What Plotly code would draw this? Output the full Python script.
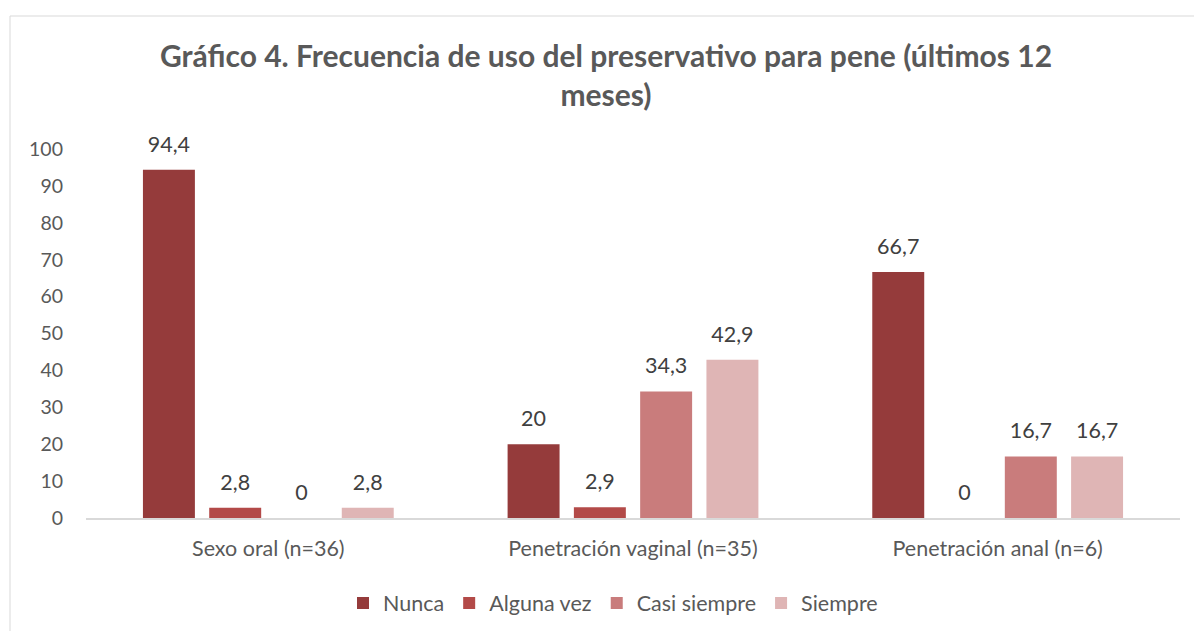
import plotly.graph_objects as go

categories = ['Sexo oral (n=36)', 'Penetración vaginal (n=35)', 'Penetración anal (n=6)']
series_names = ['Nunca', 'Alguna vez', 'Casi siempre', 'Siempre']
nunca = [94.4, 20, 66.7]
alguna_vez = [2.8, 2.9, 0]
casi_siempre = [0, 34.3, 16.7]
siempre = [2.8, 42.9, 16.7]
y_ticks = [0, 10, 20, 30, 40, 50, 60, 70, 80, 90, 100]

colors = ['#953B3B', '#B34A48', '#C97C7C', '#DFB5B5']
FONT = 'Lato'

W, H = 1194, 631
# plot area in pixels
L, R, T, B = 86, 14, 149, 113
pw = W - L - R
ph = H - T - B


def fmt(v):
    s = ('%g' % v).replace('.', ',')
    # trailing small blank line lifts the label above the bar
    return "<span style='font-size:21.5px'>%s</span><br>\u00a0" % s


fig = go.Figure()
for name, vals, col in zip(series_names, [nunca, alguna_vez, casi_siempre, siempre], colors):
    fig.add_trace(go.Bar(
        x=categories,
        y=vals,
        name=name,
        marker_color=col,
        marker_line_width=0,
        text=[fmt(v) for v in vals],
        textposition='outside',
        textfont=dict(family=FONT, size=10, color='#404040'),
        cliponaxis=False,
        hoverinfo='skip',
    ))

fig.update_layout(
    width=W,
    height=H,
    margin=dict(l=L, r=R, t=T, b=B, autoexpand=False),
    paper_bgcolor='white',
    plot_bgcolor='white',
    barmode='group',
    bargap=0.273,
    bargroupgap=0.216,
    font=dict(family=FONT, size=21.5, color='#595959'),
    title=dict(
        text='<b>Gráfico 4. Frecuencia de uso del preservativo para pene (últimos 12<br>meses)</b>',
        x=606 / W, xref='container', xanchor='center',
        y=1 - 67 / H, yref='container', yanchor='top',
        font=dict(family=FONT, size=30, color='#595959'),
    ),
    showlegend=True,
    legend=dict(
        orientation='h',
        x=(613 - L) / pw, xanchor='center',
        y=-(603 - (H - B)) / ph, yanchor='middle',
        font=dict(family=FONT, size=21.5, color='#595959'),
        traceorder='normal',
    ),
    shapes=[dict(
        type='rect', xref='paper', yref='paper',
        x0=(10 - L) / pw, x1=(W + 10 - L) / pw,
        y0=-(H + 10 - (H - B)) / ph, y1=((H - B) - 16) / ph,
        line=dict(color='#D9D9D9', width=1),
        fillcolor='rgba(0,0,0,0)',
        layer='below',
    )],
)

fig.update_xaxes(
    showline=True,
    linecolor='#D9D9D9',
    linewidth=1.5,
    showgrid=False,
    ticks='',
    ticklabelstandoff=10,
    tickfont=dict(family=FONT, size=21.5, color='#595959'),
)
fig.update_yaxes(
    range=[0, 100],
    tickvals=y_ticks,
    showline=False,
    showgrid=False,
    zeroline=False,
    ticks='',
    ticklabelstandoff=22,
    tickfont=dict(family=FONT, size=19.5, color='#595959'),
)

fig.write_html('out.html', config={'displayModeBar': False},
               post_script="document.body.style.margin='0px';")
